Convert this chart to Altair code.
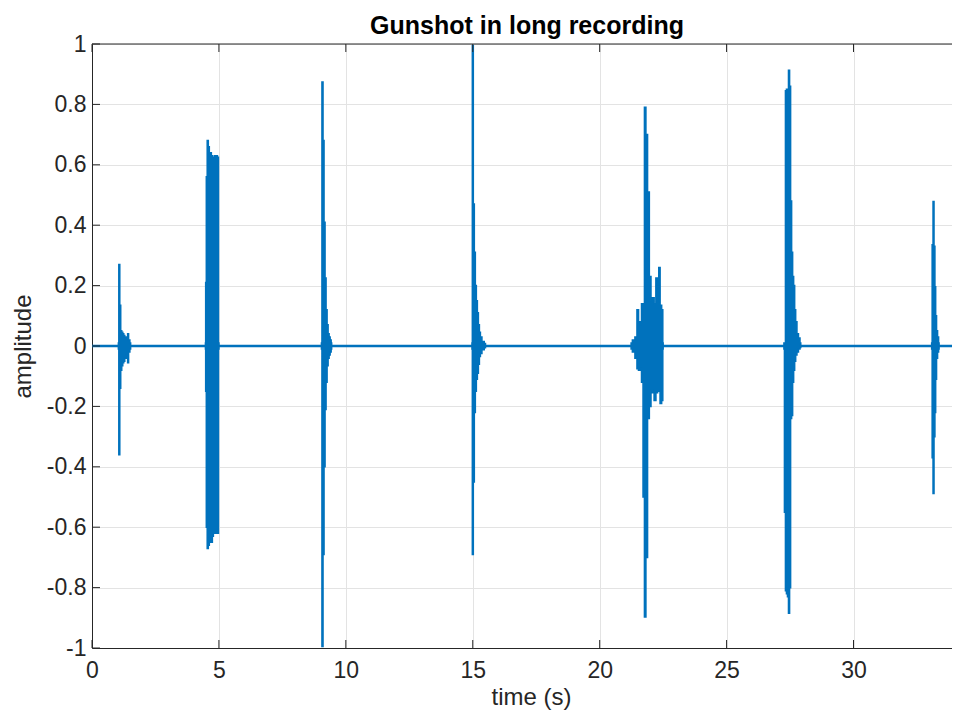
import altair as alt
import pandas as pd

# ---- data (envelope of each gunshot burst) ----
b1_t  = [1.04, 1.076, 1.11, 1.15, 1.19, 1.23, 1.27, 1.31, 1.35, 1.39, 1.42, 1.46, 1.52]
b1_hi = [0.01, 0.27, 0.135, 0.05, 0.045, 0.04, 0.035, 0.03, 0.025, 0.03, 0.04, 0.02, 0.01]
b1_lo = [-0.01, -0.36, -0.14, -0.08, -0.065, -0.055, -0.05, -0.04, -0.03, -0.04, -0.055, -0.02, -0.01]

b2_t  = [4.47, 4.49, 4.52, 4.56, 4.60, 4.64, 4.68, 4.72, 4.76, 4.80, 4.84, 4.88, 4.92, 4.96, 5.00]
b2_hi = [0.01, 0.21, 0.56, 0.68, 0.66, 0.64, 0.64, 0.63, 0.625, 0.625, 0.63, 0.625, 0.63, 0.625, 0.01]
b2_lo = [-0.01, -0.15, -0.60, -0.67, -0.66, -0.65, -0.65, -0.65, -0.63, -0.62, -0.62, -0.62, -0.61, -0.62, -0.01]

b3_t  = [9.04, 9.08, 9.12, 9.16, 9.20, 9.24, 9.28, 9.32, 9.36, 9.40, 9.44]
b3_hi = [0.01, 0.874, 0.68, 0.41, 0.225, 0.12, 0.07, 0.04, 0.03, 0.02, 0.01]
b3_lo = [-0.01, -0.995, -0.69, -0.40, -0.21, -0.12, -0.065, -0.04, -0.03, -0.02, -0.01]

b4_t  = [14.97, 15.0, 15.04, 15.08, 15.12, 15.16, 15.20, 15.24, 15.28, 15.32, 15.40, 15.50]
b4_hi = [0.01, 0.995, 0.47, 0.31, 0.20, 0.15, 0.11, 0.07, 0.045, 0.03, 0.015, 0.008]
b4_lo = [-0.01, -0.69, -0.45, -0.22, -0.15, -0.11, -0.09, -0.06, -0.035, -0.025, -0.012, -0.006]

b5_t  = [21.24, 21.34, 21.44, 21.50, 21.56, 21.62, 21.68, 21.74, 21.79, 21.85, 21.92, 21.99,
         22.05, 22.11, 22.18, 22.25, 22.31, 22.35, 22.41, 22.47, 22.50]
b5_hi = [0.01, 0.02, 0.03, 0.12, 0.08, 0.07, 0.14, 0.12, 0.79, 0.70, 0.51, 0.23,
         0.15, 0.16, 0.14, 0.225, 0.21, 0.26, 0.135, 0.12, 0.01]
b5_lo = [-0.01, -0.02, -0.04, -0.075, -0.08, -0.075, -0.12, -0.50, -0.897, -0.70, -0.24, -0.20,
         -0.145, -0.155, -0.18, -0.155, -0.15, -0.15, -0.19, -0.18, -0.01]

b6_t  = [27.26, 27.30, 27.34, 27.38, 27.42, 27.46, 27.50, 27.54, 27.58, 27.62, 27.66, 27.70, 27.74, 27.80, 27.86, 27.92]
b6_hi = [0.01, 0.01, 0.845, 0.85, 0.85, 0.913, 0.86, 0.48, 0.31, 0.23, 0.20, 0.12, 0.08, 0.04, 0.026, 0.01]
b6_lo = [-0.01, -0.55, -0.81, -0.82, -0.83, -0.885, -0.80, -0.24, -0.23, -0.12, -0.08, -0.05, -0.03, -0.02, -0.01, -0.005]

b7_t  = [33.08, 33.12, 33.15, 33.19, 33.22, 33.25, 33.29, 33.33, 33.37]
b7_hi = [0.01, 0.335, 0.478, 0.33, 0.196, 0.10, 0.05, 0.03, 0.01]
b7_lo = [-0.01, -0.37, -0.488, -0.30, -0.22, -0.11, -0.04, -0.02, -0.01]

x_ticks = [0, 5, 10, 15, 20, 25, 30]
y_ticks = [-1, -0.8, -0.6, -0.4, -0.2, 0, 0.2, 0.4, 0.6, 0.8, 1]
x_max = 33.88

TITLE = "Gunshot in long recording"
XLABEL = "time (s)"
YLABEL = "amplitude"

# ---- build tables ----
rows = []
for name, ts, his, los in [("b1", b1_t, b1_hi, b1_lo), ("b2", b2_t, b2_hi, b2_lo),
                           ("b3", b3_t, b3_hi, b3_lo), ("b4", b4_t, b4_hi, b4_lo),
                           ("b5", b5_t, b5_hi, b5_lo), ("b6", b6_t, b6_hi, b6_lo),
                           ("b7", b7_t, b7_hi, b7_lo)]:
    for t, h, l in zip(ts, his, los):
        rows.append({"burst": name, "t": t, "hi": h, "lo": l})
df = pd.DataFrame(rows)
xt = pd.DataFrame({"v": x_ticks})
yt = pd.DataFrame({"v": y_ticks})

W, H = 860, 604
BLUE = "#0072BD"
AX = "#262626"
FONT = "Liberation Sans"

xscale = alt.Scale(domain=[0, x_max], nice=False, zero=False)
yscale = alt.Scale(domain=[-1, 1], nice=False, zero=False)

xaxis = alt.Axis(values=x_ticks, grid=True, gridColor="#e3e3e3", ticks=False,
                 domainColor=AX, labelColor=AX, labelFontSize=23, labelFont=FONT,
                 labelPadding=11, title=XLABEL, titleFont=FONT, titleFontSize=24,
                 titleFontWeight="normal", titleColor=AX, titleX=439, titleY=49,
                 titleBaseline="middle", titleAlign="center", labelFlush=False)
yaxis = alt.Axis(values=y_ticks, grid=True, gridColor="#e3e3e3", ticks=False,
                 domainColor=AX, labelColor=AX, labelFontSize=23, labelFont=FONT,
                 labelPadding=6, labelExpr="toString(datum.value)", title=YLABEL,
                 titleFont=FONT, titleFontSize=24, titleFontWeight="normal",
                 titleColor=AX, titleX=-69, titleY=H / 2, titleAngle=-90,
                 titleAlign="center", titleBaseline="middle", labelFlush=False)

baseline = alt.Chart(pd.DataFrame({"a": [0], "b": [x_max], "y": [0]})).mark_rule(
    color=BLUE, strokeWidth=2.5
).encode(
    x=alt.X("a:Q", scale=xscale, axis=xaxis),
    x2="b:Q",
    y=alt.Y("y:Q", scale=yscale, axis=yaxis),
)

bursts = alt.Chart(df).mark_area(
    interpolate="step", color=BLUE, stroke=BLUE, strokeWidth=1.6, opacity=1
).encode(
    x=alt.X("t:Q", scale=xscale),
    y=alt.Y("hi:Q", scale=yscale),
    y2="lo:Q",
    detail="burst:N",
)

top_border = alt.Chart(pd.DataFrame({"a": [0], "b": [x_max], "y": [1]})).mark_rule(
    color=AX, strokeWidth=1
).encode(x=alt.X("a:Q", scale=xscale), x2="b:Q", y=alt.Y("y:Q", scale=yscale))

left_ticks = alt.Chart(yt).mark_rule(color=AX, strokeWidth=1).encode(
    y=alt.Y("v:Q", scale=yscale), x=alt.value(0), x2=alt.value(8))
bottom_ticks = alt.Chart(xt).mark_rule(color=AX, strokeWidth=1).encode(
    x=alt.X("v:Q", scale=xscale), y=alt.value(H), y2=alt.value(H - 8))
top_ticks = alt.Chart(xt).mark_rule(color=AX, strokeWidth=1).encode(
    x=alt.X("v:Q", scale=xscale), y=alt.value(0), y2=alt.value(8))

chart = alt.layer(baseline, bursts, top_border, left_ticks, bottom_ticks, top_ticks).properties(
    width=W, height=H,
    title=alt.TitleParams(TITLE, font=FONT, fontSize=25, fontWeight="bold", color="#000000",
                          anchor="middle", dx=5, offset=-6, frame="group"),
    autosize=alt.AutoSizeParams(type="none"),
    padding={"left": 84, "top": 36, "right": 0, "bottom": 64},
).configure_view(stroke=None).configure(background="white")

chart.save("out.html", embed_options={"renderer": "svg", "actions": False})
